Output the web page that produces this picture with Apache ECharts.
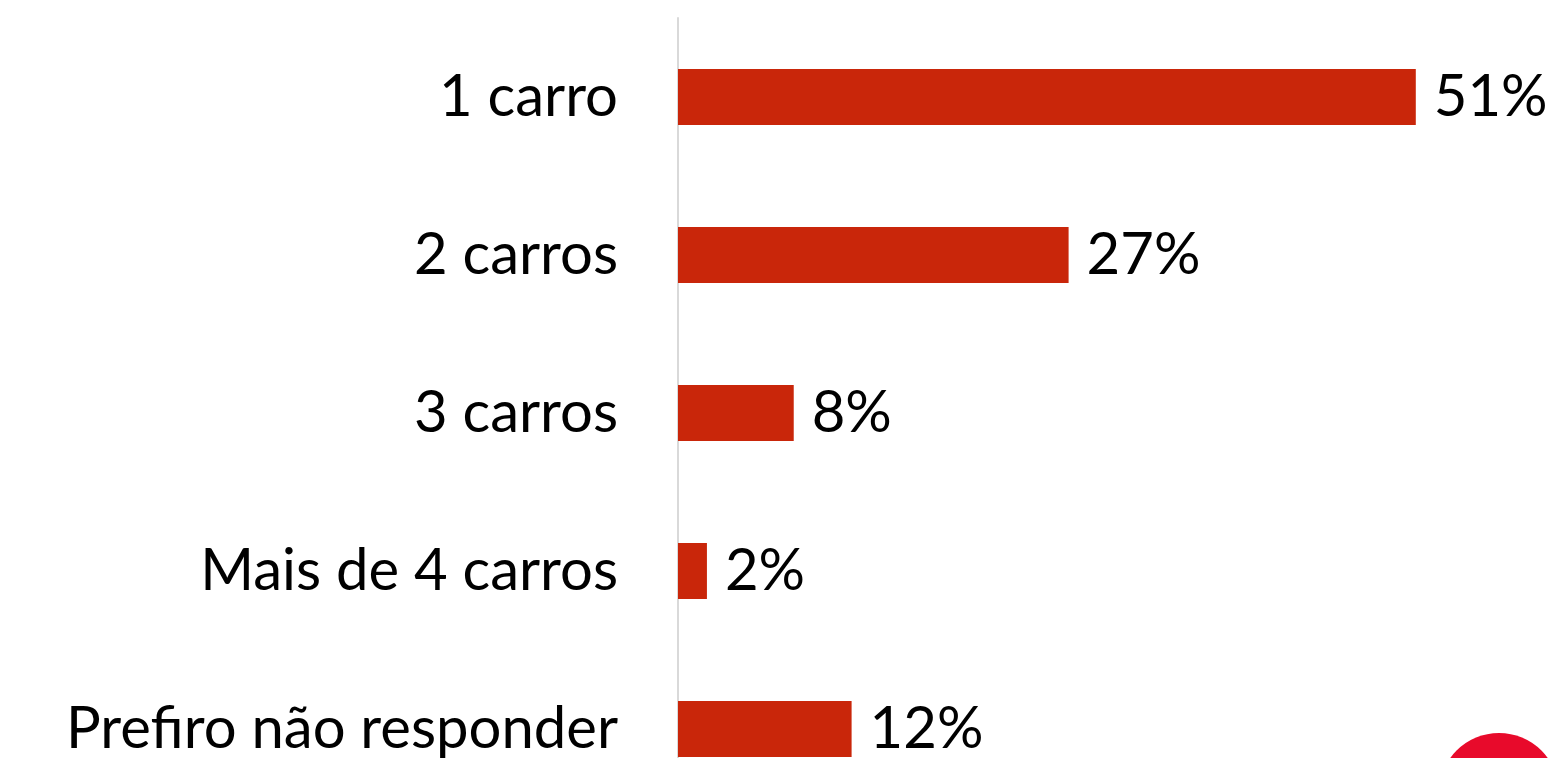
<!DOCTYPE html>
<html>
<head>
<meta charset="utf-8">
<script src="https://cdn.jsdelivr.net/npm/echarts@6/dist/echarts.min.js"></script>
<style>
html,body{margin:0;padding:0;background:#fff;}
#chart{width:1557px;height:758px;}
</style>
</head>
<body>
<div id="chart"></div>
<script>
const categories = ['1 carro', '2 carros', '3 carros', 'Mais de 4 carros', 'Prefiro não responder'];
const values = [51, 27, 8, 2, 12];

const FONT = 'Lato';
const chart = echarts.init(document.getElementById('chart'), null, {renderer: 'canvas'});
chart.setOption({
  animation: false,
  backgroundColor: '#ffffff',
  grid: {left: 678, top: 18, width: 868, height: 790, containLabel: false, outerBoundsMode: 'none'},
  xAxis: {
    type: 'value', min: 0, max: 60, show: false
  },
  yAxis: {
    type: 'category', data: categories, inverse: true,
    axisLine: {show: true, lineStyle: {color: '#d9d9d9', width: 2}},
    axisTick: {show: false},
    axisLabel: {color: '#000', fontFamily: FONT, fontSize: 58, margin: 60, align: 'right'}
  },
  series: [{
    type: 'bar', data: values, barWidth: 56,
    itemStyle: {color: '#c9260a'},
    label: {show: true, position: 'right', distance: 18, formatter: '{c}%',
      color: '#000', fontFamily: FONT, fontSize: 58}
  }],
  graphic: [{
    type: 'circle', shape: {cx: 1499, cy: 793, r: 60},
    style: {fill: '#e80a2b'}, z: 100
  }]
});
</script>
</body>
</html>
